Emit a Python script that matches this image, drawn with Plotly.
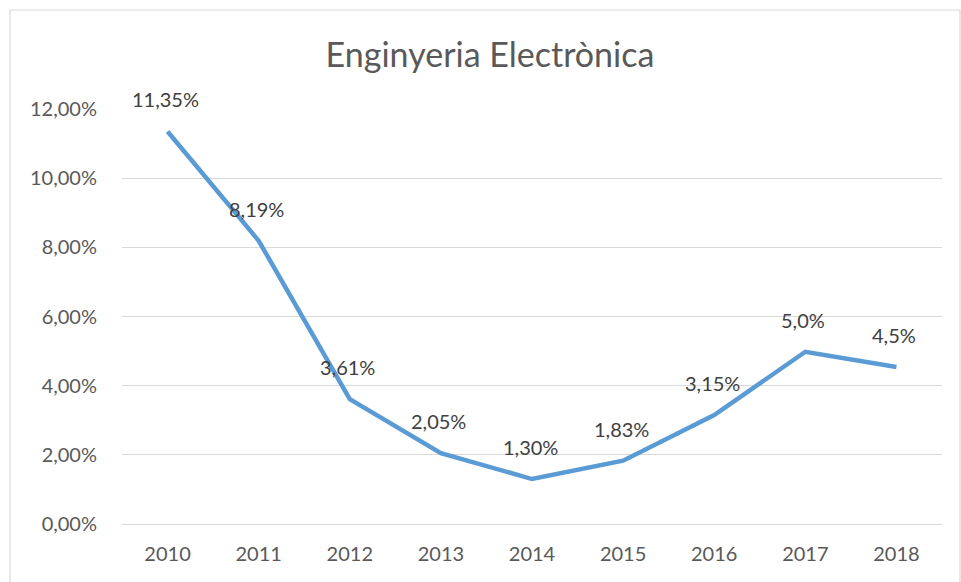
import plotly.graph_objects as go

years = ["2010", "2011", "2012", "2013", "2014", "2015", "2016", "2017", "2018"]
values = [11.35, 8.19, 3.61, 2.05, 1.30, 1.83, 3.15, 4.98, 4.54]
labels = ["11,35%", "8,19%", "3,61%", "2,05%", "1,30%", "1,83%", "3,15%", "5,0%", "4,5%"]
title_text = "Enginyeria Electrònica"

FONT = "Lato"
W, H = 961, 582
L, R, T, B = 122, 19, 109, 58
pw, ph = W - L - R, H - T - B

fig = go.Figure()
fig.add_trace(go.Scatter(
    x=years, y=values, mode="lines",
    line=dict(color="#5B9BD5", width=4.5),
    hoverinfo="skip", showlegend=False,
))

for i, (v, t) in enumerate(zip(values, labels)):
    fig.add_annotation(x=i, y=v, xref="x", yref="y", text=t, showarrow=False,
                       yshift=32, xshift=-2,
                       font=dict(family=FONT, size=20, color="#404040"))

# chart border
fig.add_shape(type="rect", xref="paper", yref="paper",
              x0=(10 - L) / pw, x1=(960 - L) / pw,
              y0=-(600 - (H - B)) / ph, y1=1 + (T - 10) / ph,
              line=dict(color="#D9D9D9", width=1.2), fillcolor="rgba(0,0,0,0)", layer="below")

fig.update_layout(
    width=W, height=H,
    margin=dict(l=L, r=R, t=T, b=B),
    paper_bgcolor="white", plot_bgcolor="white",
    separators=",.",
    title=dict(text=title_text, x=490 / W, xref="container", xanchor="center",
               y=1 - 55 / H, yref="container", yanchor="middle",
               font=dict(family=FONT, size=34, color="#595959")),
    xaxis=dict(type="category", range=[-0.5, 8.5], showgrid=False,
               showline=True, linecolor="#D9D9D9", linewidth=1.2,
               ticks="", ticklabelstandoff=12, zeroline=False,
               tickfont=dict(family=FONT, size=20, color="#595959")),
    yaxis=dict(range=[0, 12], dtick=2, tickformat=".2f", ticksuffix="%",
               showgrid=True, gridcolor="#D9D9D9", gridwidth=1.2,
               zeroline=False, showline=False, ticks="", ticklabelstandoff=24,
               tickfont=dict(family=FONT, size=20, color="#595959")),
)

fig.write_html("out.html", post_script="document.body.style.margin='0';",
               config={"displayModeBar": False})
